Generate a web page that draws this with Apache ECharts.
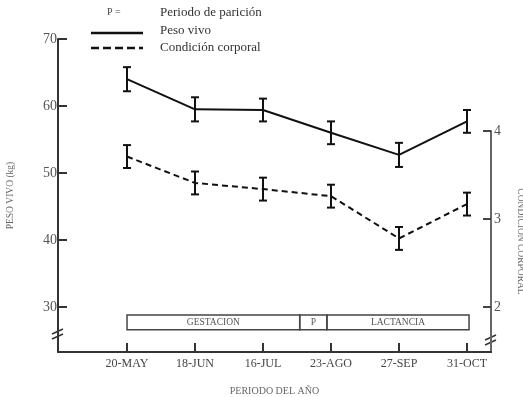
<!DOCTYPE html>
<html><head><meta charset="utf-8">
<script src="https://cdn.jsdelivr.net/npm/echarts@6/dist/echarts.min.js"></script>
<style>html,body{margin:0;padding:0;background:#fff}#c{width:523px;height:397px}</style>
</head><body><div id="c"></div>
<script>
const categories = ['20-MAY','18-JUN','16-JUL','23-AGO','27-SEP','31-OCT'];
const pesoVivo = [64.0, 59.5, 59.4, 56.0, 52.7, 57.7];
const pesoVivoErr = [1.8, 1.8, 1.7, 1.7, 1.8, 1.7];
const condicion = [3.71, 3.41, 3.34, 3.26, 2.78, 3.17];
const condicionErr = [0.13, 0.13, 0.13, 0.13, 0.13, 0.13];
const leftTicks = [30, 40, 50, 60, 70];
const rightTicks = [2, 3, 4];
const phaseNames = ['GESTACION', 'P', 'LACTANCIA'];
const phaseStart = [0, 2.54, 2.94];
const phaseEnd = [2.54, 2.94, 5.03];

const serif = '"Liberation Serif","DejaVu Serif",serif';
const idx = categories.map((c, i) => i);

function errSeries(vals, errs, xi, yi) {
  return {
    type: 'custom', xAxisIndex: xi, yAxisIndex: yi, z: 5,
    data: vals.map((v, i) => [i, v - errs[i], v + errs[i]]),
    renderItem: function (params, api) {
      const lo = api.coord([api.value(0), api.value(1)]);
      const hi = api.coord([api.value(0), api.value(2)]);
      const w = 4;
      const st = { stroke: '#111', lineWidth: 2 };
      return { type: 'group', children: [
        { type: 'line', shape: { x1: lo[0], y1: lo[1], x2: hi[0], y2: hi[1] }, style: st },
        { type: 'line', shape: { x1: lo[0] - w, y1: lo[1], x2: lo[0] + w, y2: lo[1] }, style: st },
        { type: 'line', shape: { x1: hi[0] - w, y1: hi[1], x2: hi[0] + w, y2: hi[1] }, style: st }
      ]};
    }
  };
}

const chart = echarts.init(document.getElementById('c'), null, { renderer: 'canvas' });
const xCommon = { type: 'value', min: -1.015, max: 5.353, splitLine: { show: false } };
chart.setOption({
  backgroundColor: '#fff',
  animation: false,
  grid: [
    { left: 58, right: 32, top: 39, bottom: 45, containLabel: false, outerBoundsMode: 'none' },
    { left: 58, right: 32, top: 131, bottom: 45, containLabel: false, outerBoundsMode: 'none' }
  ],
  xAxis: [
    Object.assign({}, xCommon, {
      gridIndex: 0,
      axisLine: { show: true, onZero: false, lineStyle: { color: '#333', width: 2 } },
      axisTick: { show: true, inside: true, length: 9, customValues: idx, lineStyle: { color: '#333', width: 2 } },
      axisLabel: { show: true, customValues: idx, formatter: v => categories[Math.round(v)], fontFamily: serif, fontSize: 12, color: '#444', margin: 6 },
      name: 'PERIODO DEL AÑO', nameLocation: 'middle', nameGap: 34,
      nameTextStyle: { fontFamily: serif, fontSize: 10, color: '#666' }
    }),
    Object.assign({}, xCommon, { gridIndex: 1, show: false, axisLine: { onZero: false } })
  ],
  yAxis: [
    {
      type: 'value', gridIndex: 0, min: 23.28, max: 70, position: 'left',
      splitLine: { show: false },
      axisLine: { show: true, onZero: false, lineStyle: { color: '#333', width: 2 } },
      axisTick: { show: true, inside: true, length: 9, customValues: leftTicks, lineStyle: { color: '#333', width: 2 } },
      axisLabel: { show: true, customValues: leftTicks, fontFamily: serif, fontSize: 14, color: '#555', margin: 1 },
      name: 'PESO VIVO (kg)', nameLocation: 'middle', nameGap: 43, nameRotate: 90,
      nameTextStyle: { fontFamily: serif, fontSize: 9.5, color: '#666' }
    },
    {
      type: 'value', gridIndex: 1, min: 1.49, max: 4, position: 'right',
      splitLine: { show: false },
      axisLine: { show: true, onZero: false, lineStyle: { color: '#666', width: 2 } },
      axisTick: { show: true, inside: true, length: 8, customValues: rightTicks, lineStyle: { color: '#444', width: 2 } },
      axisLabel: { show: true, customValues: rightTicks, fontFamily: serif, fontSize: 14, color: '#555', margin: 3 },
      name: 'CONDICION CORPORAL', nameLocation: 'middle', nameGap: 24, nameRotate: -90,
      nameTextStyle: { fontFamily: serif, fontSize: 9.5, color: '#666' }
    }
  ],
  series: [
    {
      type: 'line', xAxisIndex: 0, yAxisIndex: 0, data: pesoVivo.map((v, i) => [i, v]),
      symbol: 'none', lineStyle: { color: '#111', width: 2 }, z: 4
    },
    {
      type: 'line', xAxisIndex: 1, yAxisIndex: 1, data: condicion.map((v, i) => [i, v]),
      symbol: 'none', lineStyle: { color: '#111', width: 2, type: [6, 4] }, z: 4
    },
    errSeries(pesoVivo, pesoVivoErr, 0, 0),
    errSeries(condicion, condicionErr, 1, 1),
    {
      type: 'custom', xAxisIndex: 0, yAxisIndex: 0, z: 3,
      data: phaseNames.map((n, i) => [phaseStart[i], phaseEnd[i], i]),
      renderItem: function (params, api) {
        const a = api.coord([api.value(0), 28.8]);
        const b = api.coord([api.value(1), 26.6]);
        const name = phaseNames[api.value(2)];
        return { type: 'group', children: [
          { type: 'rect', shape: { x: a[0], y: a[1], width: b[0] - a[0], height: b[1] - a[1] },
            style: { fill: 'none', stroke: '#444', lineWidth: 1.5 } },
          { type: 'text', x: (a[0] + b[0]) / 2, y: (a[1] + b[1]) / 2,
            style: { text: name, fontFamily: serif, fontSize: 9.5, fill: '#555', align: 'center', verticalAlign: 'middle' } }
        ]};
      }
    }
  ],
  graphic: [
    { type: 'text', left: 107, top: 7, style: { text: 'P =', fontFamily: serif, fontSize: 10, fill: '#444' } },
    { type: 'text', left: 160, top: 6, style: { text: 'Periodo de parición', fontFamily: serif, fontSize: 13, fill: '#333' } },
    { type: 'line', shape: { x1: 91, y1: 33, x2: 143, y2: 33 }, style: { stroke: '#111', lineWidth: 2.5 } },
    { type: 'text', left: 160, top: 24, style: { text: 'Peso vivo', fontFamily: serif, fontSize: 13, fill: '#333' } },
    { type: 'line', shape: { x1: 91, y1: 48, x2: 143, y2: 48 }, style: { stroke: '#111', lineWidth: 2.5, lineDash: [8, 4] } },
    { type: 'text', left: 160, top: 41, style: { text: 'Condición corporal', fontFamily: serif, fontSize: 13, fill: '#333' } },
    { type: 'line', shape: { x1: 52, y1: 334, x2: 63, y2: 329 }, style: { stroke: '#333', lineWidth: 1.5 } },
    { type: 'line', shape: { x1: 52, y1: 339, x2: 63, y2: 334 }, style: { stroke: '#333', lineWidth: 1.5 } },
    { type: 'line', shape: { x1: 485, y1: 340, x2: 496, y2: 335 }, style: { stroke: '#333', lineWidth: 1.5 } },
    { type: 'line', shape: { x1: 485, y1: 345, x2: 496, y2: 340 }, style: { stroke: '#333', lineWidth: 1.5 } }
  ]
});
</script></body></html>
